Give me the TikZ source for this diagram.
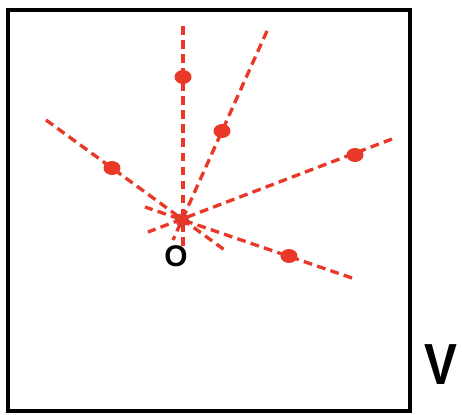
\documentclass[tikz,border=0pt]{standalone}
\usepackage{fontspec}
\setmainfont{Liberation Sans}
\usetikzlibrary{calc,shapes.geometric}

\definecolor{rayred}{RGB}{234,56,40}

\tikzset{
  ray/.style={rayred, line width=1.9pt, dash pattern=on 5pt off 3pt},
  spot/.style={ellipse, fill=rayred, inner sep=0pt, minimum width=0.34cm, minimum height=0.28cm},
}

\begin{document}
\begin{tikzpicture}[x=0.02cm, y=-0.02cm]
  \useasboundingbox (0,0) rectangle (463,414);

  % --- marco V ---
  \draw[line width=2.3pt] (8,10) rectangle (410,411);
  \node[font=\fontsize{33}{33}\selectfont\bfseries, xscale=0.85] (V) at (441,365) {V};

  % --- rayos por O ---
  \coordinate (O) at (182,220);
  \coordinate (A1) at (183,26);   \coordinate (A2) at (183,248);
  \coordinate (B1) at (267,31);   \coordinate (B2) at (173,240);
  \coordinate (C1) at (46,120);   \coordinate (C2) at (226,251);
  \coordinate (D1) at (392,139);  \coordinate (D2) at (148,232);
  \coordinate (E1) at (352,278);  \coordinate (E2) at (145,207);

  \draw[ray] (A1) -- (A2);
  \draw[ray] (B1) -- (B2);
  \draw[ray] (C1) -- (C2);
  \draw[ray] (D1) -- (D2);
  \draw[ray] (E1) -- (E2);

  \node[spot] (pA) at (183,77) {};
  \node[spot] (pB) at (222,131) {};
  \node[spot] (pC) at (112,168) {};
  \node[spot] (pD) at (355,155) {};
  \node[spot] (pE) at (289,256) {};
  \node[spot, draw=black!70, densely dotted, line width=0.4pt, minimum width=0.27cm, minimum height=0.25cm] (pO) at (O) {};

  \node[font=\fontsize{17}{17}\selectfont\bfseries] (lO) at (176,256) {O};
\end{tikzpicture}
\end{document}
